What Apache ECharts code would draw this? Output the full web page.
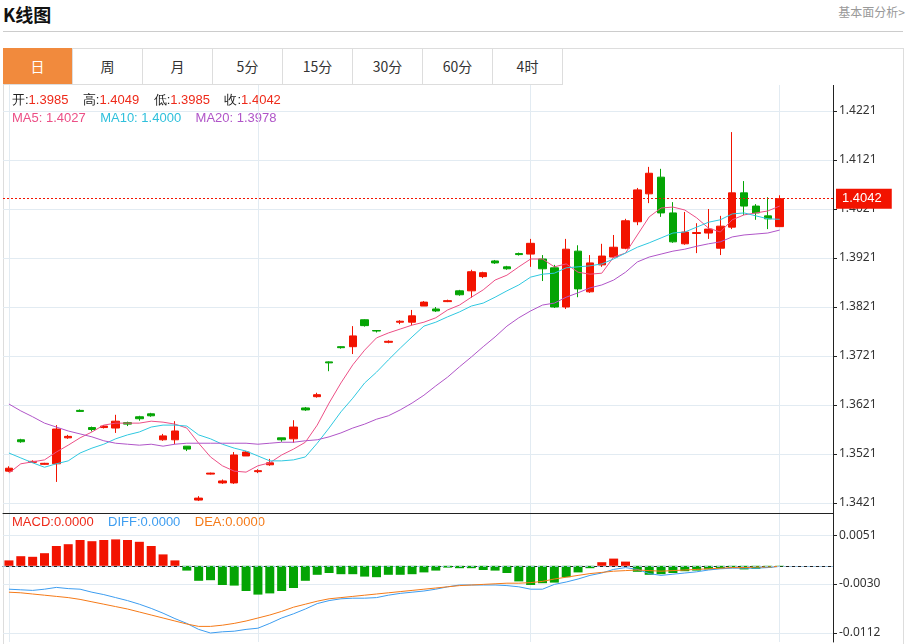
<!DOCTYPE html>
<html>
<head>
<meta charset="utf-8">
<script src="https://cdn.jsdelivr.net/npm/echarts@6/dist/echarts.min.js"></script>
<style>
body{margin:0;background:#fff;font-family:"Microsoft YaHei","Noto Sans CJK SC",sans-serif;}
#title{position:absolute;left:3px;top:1px;font-size:18px;font-weight:bold;color:#111;}
#more{position:absolute;right:6px;top:3px;font-size:12px;color:#999;}
#sep{position:absolute;left:3px;top:31px;width:900px;border-top:1px solid #ccc;}
#box{position:absolute;left:3px;top:48px;width:899px;height:596px;border:1px solid #ddd;border-bottom:none;}
#tabs{position:absolute;left:3px;top:48px;height:36px;}
.tab{float:left;width:69px;height:36px;line-height:36px;text-align:center;font-size:14px;color:#333;border-right:1px solid #ddd;border-bottom:1px solid #ddd;}
.tab.on{background:#f18a3d;color:#fff;}
#main{position:absolute;left:0;top:85px;width:911px;height:559px;}
</style>
</head>
<body>
<div id="title">K线图</div>
<div id="more">基本面分析&gt;</div>
<div id="sep"></div>
<div id="box"></div>
<div id="tabs">
<div class="tab on">日</div><div class="tab">周</div><div class="tab">月</div><div class="tab">5分</div><div class="tab">15分</div><div class="tab">30分</div><div class="tab">60分</div><div class="tab">4时</div>
</div>
<div id="main"></div>
<script>
var opens = [1.3486,1.3550,1.3504,1.3500,1.3501,1.3554,1.3610,1.3575,1.3575,1.3574,1.3585,1.3597,1.3603,1.3550,1.3550,1.3537,1.3427,1.3480,1.3462,1.3462,1.3517,1.3485,1.3499,1.3554,1.3552,1.3615,1.3638,1.3709,1.3740,1.3740,1.3795,1.3773,1.3749,1.3790,1.3790,1.3823,1.3817,1.3832,1.3854,1.3854,1.3883,1.3915,1.3903,1.3930,1.3929,1.3919,1.3901,1.3821,1.3935,1.3852,1.3907,1.3923,1.3941,1.3995,1.4052,1.4086,1.4013,1.3950,1.3971,1.3972,1.3941,1.3984,1.4054,1.4027,1.4007,1.3985];
var closes = [1.3492,1.3546,1.3506,1.3502,1.3572,1.3557,1.3608,1.3571,1.3578,1.3588,1.3582,1.3593,1.3599,1.3558,1.3568,1.3531,1.3431,1.3482,1.3466,1.3519,1.3525,1.3487,1.3503,1.3550,1.3576,1.3611,1.3642,1.3707,1.3738,1.3762,1.3783,1.3772,1.3751,1.3792,1.3803,1.3831,1.3813,1.3834,1.3846,1.3893,1.3891,1.3911,1.3899,1.3928,1.3951,1.3899,1.3821,1.3939,1.3858,1.3911,1.3925,1.3943,1.3997,1.4060,1.4094,1.4013,1.3954,1.3974,1.3973,1.3980,1.3986,1.4054,1.4027,1.4013,1.4001,1.4042];
var lows = [1.3484,1.3544,1.3503,1.3499,1.3464,1.3552,1.3607,1.3567,1.3573,1.3564,1.3578,1.3589,1.3597,1.3548,1.3541,1.3527,1.3425,1.3479,1.3460,1.3460,1.3517,1.3482,1.3497,1.3546,1.3544,1.3609,1.3636,1.3690,1.3736,1.3725,1.3781,1.3769,1.3747,1.3786,1.3784,1.3823,1.3811,1.3831,1.3844,1.3840,1.3880,1.3909,1.3897,1.3926,1.3903,1.3874,1.3819,1.3817,1.3841,1.3850,1.3903,1.3921,1.3939,1.3988,1.4033,1.4005,1.3952,1.3948,1.3931,1.3960,1.3927,1.3980,1.4009,1.3999,1.3980,1.3985];
var highs = [1.3496,1.3552,1.3508,1.3503,1.3580,1.3560,1.3612,1.3577,1.3580,1.3601,1.3587,1.3599,1.3605,1.3562,1.3588,1.3537,1.3435,1.3483,1.3469,1.3525,1.3527,1.3490,1.3511,1.3554,1.3590,1.3617,1.3646,1.3710,1.3741,1.3782,1.3796,1.3774,1.3753,1.3794,1.3815,1.3833,1.3821,1.3836,1.3856,1.3897,1.3893,1.3917,1.3905,1.3932,1.3960,1.3927,1.3907,1.3960,1.3947,1.3927,1.3950,1.3968,1.4001,1.4064,1.4107,1.4103,1.4035,1.4015,1.3992,1.4021,1.4007,1.4178,1.4078,1.4031,1.4045,1.4049];
var ma5 = [1.3482,1.3501,1.3505,1.3509,1.3525,1.3539,1.3554,1.3566,1.3580,1.3584,1.3584,1.3584,1.3588,1.3586,1.3582,1.3574,1.3543,1.3515,1.3497,1.3486,1.3484,1.3497,1.3503,1.3519,1.3531,1.3545,1.3580,1.3625,1.3666,1.3703,1.3733,1.3758,1.3768,1.3776,1.3784,1.3790,1.3799,1.3815,1.3825,1.3841,1.3856,1.3876,1.3886,1.3903,1.3919,1.3919,1.3903,1.3909,1.3892,1.3888,1.3890,1.3923,1.3931,1.3968,1.4005,1.4023,1.4025,1.4019,1.4003,1.3982,1.3974,1.3999,1.4009,1.4013,1.4017,1.4027];
var ma10 = [1.3523,1.3513,1.3503,1.3494,1.3501,1.3507,1.3523,1.3533,1.3541,1.3552,1.3560,1.3566,1.3576,1.3580,1.3580,1.3578,1.3560,1.3552,1.3541,1.3533,1.3527,1.3517,1.3507,1.3507,1.3509,1.3515,1.3543,1.3574,1.3607,1.3635,1.3666,1.3688,1.3713,1.3737,1.3760,1.3782,1.3790,1.3801,1.3811,1.3823,1.3829,1.3841,1.3854,1.3866,1.3882,1.3888,1.3890,1.3901,1.3903,1.3905,1.3909,1.3919,1.3931,1.3943,1.3952,1.3962,1.3972,1.3974,1.3984,1.3994,1.3999,1.4011,1.4013,1.4007,1.4001,1.4000];
var ma20 = [1.3623,1.3609,1.3597,1.3584,1.3576,1.3568,1.3562,1.3556,1.3548,1.3543,1.3541,1.3539,1.3541,1.3537,1.3541,1.3543,1.3543,1.3543,1.3543,1.3543,1.3543,1.3541,1.3543,1.3545,1.3545,1.3548,1.3550,1.3556,1.3564,1.3574,1.3582,1.3592,1.3599,1.3611,1.3625,1.3641,1.3660,1.3678,1.3699,1.3719,1.3740,1.3760,1.3782,1.3799,1.3813,1.3825,1.3829,1.3841,1.3850,1.3860,1.3866,1.3876,1.3892,1.3913,1.3923,1.3929,1.3935,1.3939,1.3945,1.3950,1.3954,1.3964,1.3968,1.3970,1.3972,1.3978];
var macd = [0.0009,0.0016,0.0015,0.0021,0.0033,0.0036,0.0043,0.0041,0.0043,0.0044,0.0043,0.0040,0.0033,0.0019,0.0009,-0.0008,-0.0025,-0.0024,-0.0032,-0.0033,-0.0042,-0.0048,-0.0046,-0.0042,-0.0037,-0.0025,-0.0015,-0.0012,-0.0014,-0.0014,-0.0018,-0.0019,-0.0015,-0.0015,-0.0014,-0.0011,-0.0008,-0.0003,-0.0004,-0.0004,-0.0007,-0.0008,-0.0012,-0.0026,-0.0032,-0.0029,-0.0028,-0.0019,-0.0011,-0.0004,0.0006,0.0012,0.0007,-0.0010,-0.0015,-0.0014,-0.0012,-0.0009,-0.0008,-0.0006,-0.0005,-0.0003,-0.0006,-0.0005,-0.0003,-0.0001];
var diff = [-0.0039,-0.0040,-0.0041,-0.0039,-0.0036,-0.0038,-0.0039,-0.0044,-0.0048,-0.0053,-0.0058,-0.0064,-0.0071,-0.0079,-0.0088,-0.0096,-0.0106,-0.0112,-0.0110,-0.0109,-0.0106,-0.0104,-0.0096,-0.0087,-0.0080,-0.0072,-0.0063,-0.0058,-0.0055,-0.0054,-0.0054,-0.0053,-0.0049,-0.0046,-0.0044,-0.0042,-0.0039,-0.0035,-0.0032,-0.0032,-0.0032,-0.0032,-0.0033,-0.0035,-0.0039,-0.0039,-0.0031,-0.0027,-0.0022,-0.0016,-0.0012,-0.0006,-0.0003,-0.0006,-0.0013,-0.0016,-0.0014,-0.0012,-0.0010,-0.0007,-0.0005,-0.0004,-0.0004,-0.0004,-0.0003,-0.0001];
var dea = [-0.0044,-0.0045,-0.0047,-0.0049,-0.0051,-0.0053,-0.0056,-0.0060,-0.0064,-0.0068,-0.0072,-0.0077,-0.0082,-0.0087,-0.0092,-0.0097,-0.0101,-0.0101,-0.0099,-0.0096,-0.0092,-0.0087,-0.0082,-0.0076,-0.0069,-0.0064,-0.0059,-0.0055,-0.0053,-0.0051,-0.0049,-0.0047,-0.0045,-0.0043,-0.0041,-0.0039,-0.0037,-0.0035,-0.0033,-0.0032,-0.0031,-0.0030,-0.0029,-0.0029,-0.0028,-0.0026,-0.0022,-0.0019,-0.0016,-0.0013,-0.0011,-0.0009,-0.0008,-0.0007,-0.0008,-0.0009,-0.0008,-0.0007,-0.0006,-0.0005,-0.0004,-0.0003,-0.0003,-0.0002,-0.0002,-0.0001];
var priceTicks = [1.3421,1.3521,1.3621,1.3721,1.3821,1.3921,1.4021,1.4121,1.4221];
var macdTicks = [0.0051,-0.0030,-0.0112];
var lastPrice = 1.4042;
var gridDays = [0, 21, 44, 65];
var slots = 70;

var UP = '#f21300', DOWN = '#04a404', ZERO = '#9cc3e0';
var days = [];
for (var i = 0; i < slots; i++) days.push(String(i));
var kdata = opens.map(function (o, i) { return [o, closes[i], lows[i], highs[i]]; });

var chart = echarts.init(document.getElementById('main'));
var splitFn = function (idx) { return gridDays.indexOf(idx) >= 0; };
var gl = { color: '#e2ebf2', width: 1 };
var lab = { color: '#333', fontSize: 12, fontFamily: 'Microsoft YaHei, Noto Sans, sans-serif' };

chart.setOption({
  animation: false,
  grid: [
    { left: 3, right: 78, top: 0, height: 428 },
    { left: 3, right: 78, top: 428, height: 129 }
  ],
  xAxis: [
    { type: 'category', gridIndex: 0, data: days, boundaryGap: true,
      axisLine: { lineStyle: { color: '#222' } }, axisTick: { show: false }, axisLabel: { show: false },
      splitLine: { show: true, alignWithLabel: true, interval: splitFn, lineStyle: gl } },
    { type: 'category', gridIndex: 1, data: days, boundaryGap: true,
      axisLine: { lineStyle: { color: '#222' } }, axisTick: { show: false }, axisLabel: { show: false },
      splitLine: { show: true, alignWithLabel: true, interval: splitFn, lineStyle: gl } }
  ],
  yAxis: [
    { type: 'value', gridIndex: 0, position: 'right', scale: true, min: 1.34006, max: 1.42741,
      axisLine: { show: true, lineStyle: { color: '#222' } },
      axisTick: { show: true, length: 4, customValues: priceTicks, lineStyle: { color: '#222' } },
      axisLabel: Object.assign({ customValues: priceTicks, margin: 6, formatter: function (v) { return v.toFixed(4); } }, lab),
      splitLine: { show: true, lineStyle: gl } },
    { type: 'value', gridIndex: 1, position: 'right', min: -0.0127, max: 0.0088,
      axisLine: { show: true, lineStyle: { color: '#222' } },
      axisTick: { show: true, length: 4, customValues: macdTicks, lineStyle: { color: '#222' } },
      axisLabel: Object.assign({ customValues: macdTicks, margin: 6, formatter: function (v) { return v.toFixed(4); } }, lab),
      splitLine: { show: true, lineStyle: gl } }
  ],
  graphic: [
    { type: 'text', left: 12, top: 9, style: {
      text: '{k|开:}{v|1.3985}    {k|高:}{v|1.4049}    {k|低:}{v|1.3985}    {k|收:}{v|1.4042}',
      rich: { k: { fill: '#222', fontSize: 13 }, v: { fill: '#ee2a1a', fontSize: 13 } }, fontSize: 13 } },
    { type: 'text', left: 12, top: 27, style: {
      text: '{a|MA5: 1.4027}    {b|MA10: 1.4000}    {c|MA20: 1.3978}',
      rich: { a: { fill: '#ec4f86', fontSize: 13 }, b: { fill: '#2fc0dc', fontSize: 13 }, c: { fill: '#b055c8', fontSize: 13 } }, fontSize: 13 } },
    { type: 'text', left: 12, top: 431, style: {
      text: '{a|MACD:0.0000}    {b|DIFF:0.0000}    {c|DEA:0.0000}',
      rich: { a: { fill: '#ee2a1a', fontSize: 13 }, b: { fill: '#3d9df0', fontSize: 13 }, c: { fill: '#f57a18', fontSize: 13 } }, fontSize: 13 } }
  ],
  series: [
    { type: 'candlestick', xAxisIndex: 0, yAxisIndex: 0, data: kdata, barWidth: 8,
      itemStyle: { color: UP, color0: DOWN, borderColor: UP, borderColor0: DOWN, borderWidth: 1 } },
    { type: 'line', data: ma5, symbol: 'none', lineStyle: { width: 1, color: '#ec4f86' },
      markLine: { symbol: 'none', silent: true, precision: 4,
        itemStyle: { color: UP },
        lineStyle: { color: UP, type: [2, 2], width: 1, opacity: 1 },
        label: { position: 'end', distance: 3, formatter: lastPrice.toFixed(4), color: '#fff', backgroundColor: UP, padding: [4, 10, 3, 6], fontSize: 13 },
        data: [{ yAxis: lastPrice, itemStyle: { color: UP }, lineStyle: { color: UP } }] } },
    { type: 'line', data: ma10, symbol: 'none', lineStyle: { width: 1, color: '#2fc8e0' } },
    { type: 'line', data: ma20, symbol: 'none', lineStyle: { width: 1, color: '#b055c8' } },
    { type: 'bar', xAxisIndex: 1, yAxisIndex: 1, data: macd.map(function (v) { return { value: v, itemStyle: { color: v >= 0 ? UP : DOWN } }; }), barWidth: 9,
      markLine: { symbol: 'none', silent: true, precision: 4, label: { show: false }, itemStyle: { color: ZERO },
        lineStyle: { color: ZERO, type: [3, 3], width: 1 },
        data: [{ yAxis: 0, itemStyle: { color: ZERO }, lineStyle: { color: ZERO } }] } },
    { type: 'line', xAxisIndex: 1, yAxisIndex: 1, data: diff, symbol: 'none', lineStyle: { width: 1, color: '#3d9df0' } },
    { type: 'line', xAxisIndex: 1, yAxisIndex: 1, data: dea, symbol: 'none', lineStyle: { width: 1, color: '#f57a18' } }
  ]
});
</script>
</body>
</html>
